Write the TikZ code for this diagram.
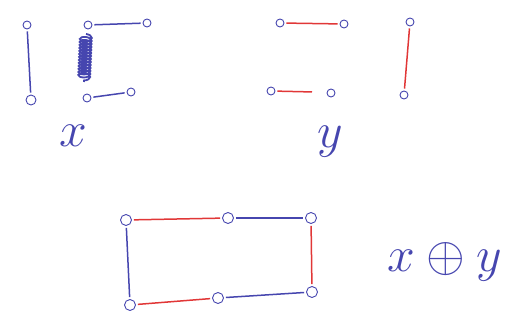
\documentclass[tikz,border=0pt]{standalone}
\usetikzlibrary{decorations.pathmorphing}
\definecolor{pen}{RGB}{70,70,175}
\definecolor{redpen}{RGB}{225,55,55}
\tikzset{
  v/.style={circle,draw=pen,line width=0.9pt,minimum size=8pt,inner sep=0pt},
  be/.style={pen,line width=1.5pt,shorten <=2pt,shorten >=2pt},
  re/.style={redpen,line width=1.5pt,shorten <=2pt,shorten >=2pt},
  lbl/.style={pen,inner sep=0pt,font=\Huge,scale=2}
}
\begin{document}
\begin{tikzpicture}[x=1pt,y=-1pt]
\useasboundingbox (0,0) rectangle (524,328);
% x
\node[v] (a) at (27,25) {};
\node[v,minimum size=10pt] (b) at (31,100) {};
\node[v] (c) at (88,25) {};
\node[v] (d) at (147,23) {};
\node[v] (e) at (87,98) {};
\node[v] (f) at (131,92) {};
\draw[be] (a) -- (b);
\draw[be] (c) -- (d);
\draw[be] (e) -- (f);
\coordinate (s1) at (86,34);
\coordinate (s2) at (84,82);
\draw[pen,line width=1.8pt,decorate,decoration={coil,segment length=3pt,amplitude=6pt}] (s1) -- (s2);
\node[lbl] (lx) at (73,136) {$x$};
% y
\node[v] (g) at (280,23) {};
\node[v] (h) at (344,24) {};
\node[v] (i) at (271,91) {};
\node[v] (j) at (331,93) {};
\node[v] (k) at (410,22) {};
\node[v] (l) at (404,95) {};
\coordinate (i2) at (314,92);
\draw[re] (g) -- (h);
\draw[re] (i) -- (i2);
\draw[re] (k) -- (l);
\node[lbl] (ly) at (330,142) {$y$};
% x xor y
\node[v,minimum size=11pt] (m) at (126,220) {};
\node[v,minimum size=11pt] (n) at (228,218) {};
\node[v,minimum size=11pt] (o) at (311,218) {};
\node[v,minimum size=11pt] (p) at (130,305) {};
\node[v,minimum size=11pt] (q) at (218,298) {};
\node[v,minimum size=11pt] (r) at (312,292) {};
\draw[re] (m) -- (n);
\draw[be] (n) -- (o);
\draw[re] (o) -- (r);
\draw[be] (m) -- (p);
\draw[re] (p) -- (q);
\draw[be] (q) -- (r);
\node[lbl] (lxy) at (445,262) {$x\oplus y$};
\end{tikzpicture}
\end{document}
